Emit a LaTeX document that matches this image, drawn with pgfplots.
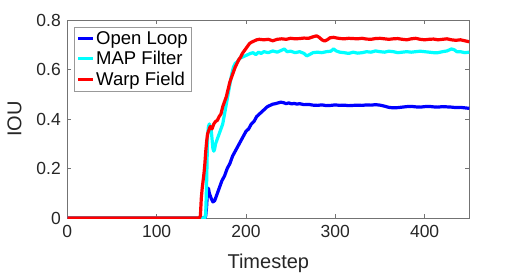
\documentclass[border=0pt]{standalone}
\usepackage{fontspec}
\setmainfont{Liberation Sans}
\usepackage{pgfplots}
\pgfplotsset{compat=1.18}
\definecolor{axgray}{RGB}{38,38,38}
\begin{document}
\begin{tikzpicture}
\useasboundingbox (-67.3pt,-58pt) rectangle (450.7pt,218pt);
\begin{axis}[
  at={(0pt,0pt)}, anchor=south west,
  scale only axis, width=402pt, height=198pt,
  xmin=0, xmax=450, ymin=0, ymax=0.8,
  xtick={0,100,200,300,400},
  ytick={0,0.2,0.4,0.6,0.8},
  yticklabel style={/pgf/number format/fixed,/pgf/number format/precision=1},
  /pgf/number format/assume math mode=true,
  tick align=inside,
  tick pos=both,
  major tick length=4pt,
  axis line style={black!55, line width=0.6pt},
  tick style={black!55, line width=0.5pt},
  tick label style={font=\fontsize{17.5}{17.5}\selectfont, text=axgray},
  xticklabel style={yshift=-4pt},
  yticklabel style={xshift=-3pt},
  xlabel={Timestep},
  ylabel={IOU},
  label style={font=\fontsize{20}{20}\selectfont, text=axgray},
  xlabel style={yshift=-9pt},
  ylabel style={yshift=8pt},
  legend cell align=left,
  legend style={at={(0.0174,0.965)}, anchor=north west,
    draw=black!40, line width=0.5pt, fill=white,
    font=\fontsize{18.5}{18.5}\selectfont,
    inner xsep=2pt, inner ysep=2.5pt, row sep=2.5pt,
    nodes={inner xsep=1.5pt, inner ysep=1.6pt}},
  legend image code/.code={\draw[#1, line width=3.2pt] (0pt,0pt) -- (15pt,0pt);},
  every axis plot/.append style={line width=3.2pt, line join=round},
]
\addplot[color={rgb,255:red,0;green,0;blue,255}] coordinates {
(0,0) (154,0) (155,0.01) (156,0.05) (157,0.11) (158,0.12) (159,0.10) (161,0.08) (163,0.065) (165,0.07) (167,0.09) (170,0.12) (173,0.15) (176,0.17) (179,0.20) (182,0.22) (185,0.25) (188,0.27) (191,0.29) (194,0.31) (197,0.33) (200,0.35) (203,0.36) (206,0.38) (209,0.39) (212,0.41) (215,0.42) (218,0.43) (221,0.44) (224,0.45) (227,0.455) (230,0.46) (233,0.462) (236,0.465) (239,0.468) (242,0.466) (245,0.462) (248,0.465) (251,0.461) (254,0.463) (257,0.46) (260,0.462) (265,0.458) (270,0.459) (275,0.456) (280,0.455) (285,0.457) (290,0.454) (295,0.455) (300,0.457) (305,0.455) (310,0.456) (315,0.454) (320,0.455) (325,0.456) (330,0.455) (335,0.457) (340,0.456) (345,0.458) (350,0.456) (355,0.452) (360,0.447) (365,0.445) (370,0.446) (375,0.448) (380,0.450) (385,0.451) (390,0.449) (395,0.448) (400,0.450) (405,0.451) (410,0.449) (415,0.448) (420,0.450) (425,0.449) (430,0.448) (435,0.446) (440,0.447) (445,0.445) (450,0.443)
};
\addlegendentry{Open Loop}
\addplot[color={rgb,255:red,0;green,255;blue,255}] coordinates {
(0,0) (154,0) (155,0.02) (156,0.15) (157,0.33) (158,0.37) (159,0.38) (160,0.37) (161,0.36) (162,0.32) (163,0.28) (164,0.27) (165,0.28) (166,0.30) (167,0.31) (168,0.32) (170,0.34) (172,0.36) (174,0.38) (176,0.42) (178,0.46) (180,0.50) (182,0.54) (184,0.58) (186,0.61) (188,0.625) (190,0.63) (193,0.645) (196,0.65) (199,0.655) (202,0.66) (205,0.665) (208,0.668) (211,0.66) (214,0.67) (217,0.665) (220,0.672) (225,0.668) (230,0.675) (235,0.67) (240,0.678) (243,0.683) (246,0.672) (250,0.674) (255,0.668) (260,0.672) (265,0.665) (268,0.655) (271,0.66) (275,0.668) (280,0.67) (285,0.668) (290,0.672) (295,0.674) (298,0.683) (301,0.675) (305,0.67) (310,0.668) (315,0.665) (320,0.67) (325,0.666) (330,0.668) (335,0.672) (340,0.67) (345,0.675) (350,0.672) (355,0.67) (360,0.674) (365,0.672) (370,0.668) (375,0.67) (380,0.672) (385,0.67) (390,0.672) (395,0.674) (400,0.672) (405,0.67) (410,0.668) (415,0.668) (420,0.672) (425,0.675) (430,0.683) (433,0.68) (436,0.672) (440,0.672) (445,0.668) (450,0.67)
};
\addlegendentry{MAP Filter}
\addplot[color={rgb,255:red,255;green,0;blue,0}] coordinates {
(0,0) (148,0) (149,0.01) (150,0.08) (151,0.12) (152,0.15) (153,0.18) (154,0.22) (155,0.27) (156,0.31) (157,0.34) (158,0.35) (159,0.36) (160,0.37) (162,0.36) (164,0.38) (166,0.39) (168,0.395) (170,0.41) (172,0.42) (174,0.45) (176,0.47) (178,0.49) (180,0.52) (182,0.55) (184,0.57) (186,0.59) (188,0.61) (190,0.625) (192,0.64) (194,0.65) (196,0.665) (198,0.675) (200,0.685) (202,0.695) (204,0.705) (206,0.71) (209,0.715) (212,0.72) (215,0.722) (220,0.72) (225,0.722) (230,0.716) (235,0.722) (240,0.724) (245,0.722) (250,0.726) (255,0.724) (260,0.725) (265,0.727) (270,0.726) (275,0.732) (279,0.736) (282,0.73) (285,0.72) (288,0.715) (291,0.72) (294,0.728) (298,0.73) (302,0.727) (306,0.725) (310,0.724) (315,0.726) (320,0.725) (325,0.724) (330,0.726) (335,0.723) (340,0.722) (345,0.725) (350,0.726) (355,0.724) (360,0.722) (365,0.724) (370,0.725) (375,0.722) (380,0.72) (385,0.724) (390,0.726) (395,0.722) (400,0.72) (405,0.722) (410,0.723) (415,0.72) (420,0.722) (425,0.724) (430,0.72) (435,0.718) (440,0.72) (445,0.716) (450,0.712)
};
\addlegendentry{Warp Field}
\end{axis}
\end{tikzpicture}
\end{document}
